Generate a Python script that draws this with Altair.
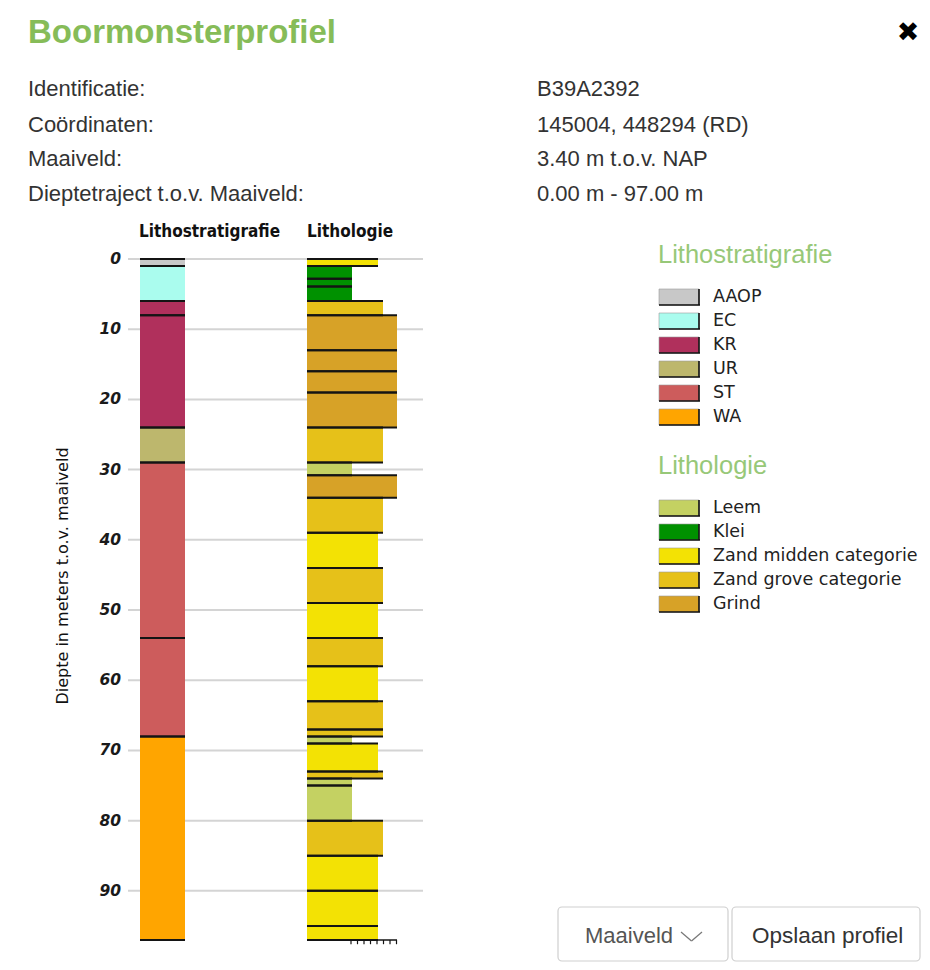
import altair as alt
import pandas as pd

# ---------------- data ----------------
strat_units = ["AAOP", "EC", "KR", "KR", "UR", "ST", "ST", "WA"]
strat_top = [0, 1, 6, 8, 24, 29, 54, 68]
strat_bottom = [1, 6, 8, 24, 29, 54, 68, 97]

lith_units = [
    "Zand midden categorie", "Klei", "Klei", "Klei", "Zand grove categorie",
    "Grind", "Grind", "Grind", "Grind", "Zand grove categorie",
    "Leem", "Grind", "Zand grove categorie", "Zand midden categorie", "Zand grove categorie",
    "Zand midden categorie", "Zand grove categorie", "Zand midden categorie", "Zand grove categorie", "Zand grove categorie",
    "Leem", "Zand midden categorie", "Zand grove categorie", "Leem", "Leem",
    "Zand grove categorie", "Zand midden categorie", "Zand midden categorie", "Zand midden categorie",
]
lith_top = [0, 1, 2.8, 3.9, 6, 8, 13, 16, 19, 24, 29, 30.8, 34, 39, 44, 49, 54, 58, 63, 67,
            68, 69, 73, 74, 75, 80, 85, 90, 95]
lith_bottom = [1, 2.8, 3.9, 6, 8, 13, 16, 19, 24, 29, 30.8, 34, 39, 44, 49, 54, 58, 63, 67, 68,
               69, 73, 74, 75, 80, 85, 90, 95, 97]

strat_legend = ["AAOP", "EC", "KR", "UR", "ST", "WA"]
strat_colors = ["#c8c8c8", "#aafcee", "#b0305c", "#bdb76d", "#cd5c5c", "#ffa500"]
lith_legend = ["Leem", "Klei", "Zand midden categorie", "Zand grove categorie", "Grind"]
lith_colors = ["#c4d162", "#009100", "#f3e204", "#e6c119", "#d7a227"]

depth_ticks = [0, 10, 20, 30, 40, 50, 60, 70, 80, 90]

info_labels = ["Identificatie:", "Coördinaten:", "Maaiveld:", "Dieptetraject t.o.v. Maaiveld:"]
info_values = ["B39A2392", "145004, 448294 (RD)", "3.40 m t.o.v. NAP", "0.00 m - 97.00 m"]

# ---------------- styling / layout (chart pixel coordinates) ----------------
W, H = 914, 954
GREEN = "#86bc58"
LEG_GREEN = "#97c878"
strat_x = (132, 177)
lith_x0 = 299
lith_right = {"Leem": 344, "Klei": 344, "Zand midden categorie": 370,
              "Zand grove categorie": 375, "Grind": 389}

xs = alt.Scale(domain=[0, W], range=[0, W], nice=False, zero=False)
ys = alt.Scale(domain=[0, 97], range=[251, 932], nice=False, zero=False)

scol = dict(zip(strat_legend, strat_colors))
lcol = dict(zip(lith_legend, lith_colors))

strat_df = pd.DataFrame({"unit": strat_units, "top": strat_top, "bottom": strat_bottom})
strat_df["xl"] = strat_x[0]
strat_df["xr"] = strat_x[1]
strat_df["col"] = strat_df["unit"].map(scol)

lith_df = pd.DataFrame({"unit": lith_units, "top": lith_top, "bottom": lith_bottom})
lith_df["xl"] = lith_x0
lith_df["xr"] = lith_df["unit"].map(lith_right)
lith_df["col"] = lith_df["unit"].map(lcol)

both = pd.concat([strat_df, lith_df], ignore_index=True)

layers = []

# gridlines
grid_df = pd.DataFrame({"d": depth_ticks})
layers.append(alt.Chart(grid_df).mark_rule(color="#d4d4d4", strokeWidth=2).encode(
    y=alt.Y("d:Q", scale=ys, axis=None), x=alt.value(120), x2=alt.value(415)))
layers.append(alt.Chart(grid_df).mark_text(
    align="right", baseline="middle", font="DejaVu Sans", fontSize=15.5,
    fontWeight="bold", fontStyle="italic", color="#1a1a1a").encode(
    y=alt.Y("d:Q", scale=ys, axis=None), x=alt.value(113), text="d:Q"))

# layer rects
layers.append(alt.Chart(both).mark_rect().encode(
    x=alt.X("xl:Q", scale=xs, axis=None), x2="xr:Q",
    y=alt.Y("top:Q", scale=ys, axis=None), y2="bottom:Q",
    fill=alt.Fill("col:N", scale=None)))
# top and bottom boundary lines
for fld in ["top", "bottom"]:
    layers.append(alt.Chart(both).mark_rule(color="#141414", strokeWidth=2).encode(
        x=alt.X("xl:Q", scale=xs, axis=None), x2="xr:Q",
        y=alt.Y(f"{fld}:Q", scale=ys, axis=None)))

# small grain-size scale at the bottom
tick_df = pd.DataFrame({"x": [343 + 6.5 * k for k in range(8)]})
layers.append(alt.Chart(pd.DataFrame({"a": [343], "b": [389], "d": [97]})).mark_rule(
    color="#141414", strokeWidth=1.5).encode(
    x=alt.X("a:Q", scale=xs, axis=None), x2="b:Q", y=alt.Y("d:Q", scale=ys, axis=None)))
layers.append(alt.Chart(tick_df).transform_calculate(d0="97", d1="97.6").mark_rule(
    color="#141414", strokeWidth=1.2).encode(
    x=alt.X("x:Q", scale=xs, axis=None),
    y=alt.Y("d0:Q", scale=ys, axis=None), y2="d1:Q"))


def txt(s, x, y, size, color="#333", weight="normal", font="Liberation Sans",
        align="left", angle=0):
    kw = dict(align=align, baseline="middle", font=font, fontSize=size,
              fontWeight=weight, color=color)
    if angle:
        kw["angle"] = angle
    return alt.Chart(pd.DataFrame({"t": [s]})).mark_text(**kw).encode(
        x=alt.value(x), y=alt.value(y), text="t:N")


# column headers and axis title
layers.append(txt("Lithostratigrafie", 201.5, 224, 17, "#111", "bold", "DejaVu Sans Condensed", "center"))
layers.append(txt("Lithologie", 342, 224, 17, "#111", "bold", "DejaVu Sans Condensed", "center"))
layers.append(txt("Diepte in meters t.o.v. maaiveld", 55, 568, 16, "#111", "normal",
                  "DejaVu Sans", "center", 270))

# header
layers.append(txt("Boormonsterprofiel", 20, 25, 33, GREEN, "bold"))
layers.append(txt("✖", 900, 25, 27, "#000", "bold", "DejaVu Sans", "center"))
for i, (lab, val) in enumerate(zip(info_labels, info_values)):
    yy = [81, 117, 151, 186][i]
    layers.append(txt(lab, 20, yy, 22, "#333"))
    layers.append(txt(val, 529, yy, 22, "#333"))

# legends
def legend(title, title_y, names, colors, top0):
    out = [txt(title, 650, title_y, 25.5, LEG_GREEN)]
    for i, (n, c) in enumerate(zip(names, colors)):
        t = top0 + 24 * i
        b = t + 16
        out.append(alt.Chart(pd.DataFrame({"n": [n]})).mark_rect(
            fill=c, stroke="#9a9a9a", strokeWidth=0.6).encode(
            x=alt.value(651), x2=alt.value(691), y=alt.value(t), y2=alt.value(b)))
        out.append(alt.Chart(pd.DataFrame({"n": [n]})).mark_rule(
            color="#111", strokeWidth=1.6).encode(
            x=alt.value(651), x2=alt.value(692), y=alt.value(b)))
        out.append(alt.Chart(pd.DataFrame({"n": [n]})).mark_rule(
            color="#111", strokeWidth=1.6).encode(
            x=alt.value(691), y=alt.value(t), y2=alt.value(b)))
        out.append(txt(n, 705, t + 8, 17.5, "#222", "normal", "DejaVu Sans"))
    return out

layers += legend("Lithostratigrafie", 247, strat_legend, strat_colors, 281)
layers += legend("Lithologie", 458, lith_legend, lith_colors, 492)

# buttons
for x0, x1 in [(550, 720), (724, 912)]:
    layers.append(alt.Chart(pd.DataFrame({"n": [0]})).mark_rect(
        fill="white", stroke="#cfcfcf", strokeWidth=1.2, cornerRadius=4).encode(
        x=alt.value(x0), x2=alt.value(x1), y=alt.value(899), y2=alt.value(953)))
layers.append(txt("Maaiveld", 577, 928, 22, "#555"))
for (a, b, c, d) in [(673, 924, 683.5, 933), (683.5, 933, 694, 924)]:
    layers.append(alt.Chart(pd.DataFrame({"n": [0]})).mark_rule(
        color="#777", strokeWidth=1.2).encode(
        x=alt.value(a), y=alt.value(b), x2=alt.value(c), y2=alt.value(d)))
layers.append(txt("Opslaan profiel", 744, 928, 22.5, "#333"))

chart = alt.layer(*layers).properties(
    width=W, height=H, padding=0,
    autosize=alt.AutoSizeParams(type="none"),
    background="white",
).configure_view(strokeWidth=0)

chart.save("out.html", embed_options={"renderer": "svg", "actions": False})
